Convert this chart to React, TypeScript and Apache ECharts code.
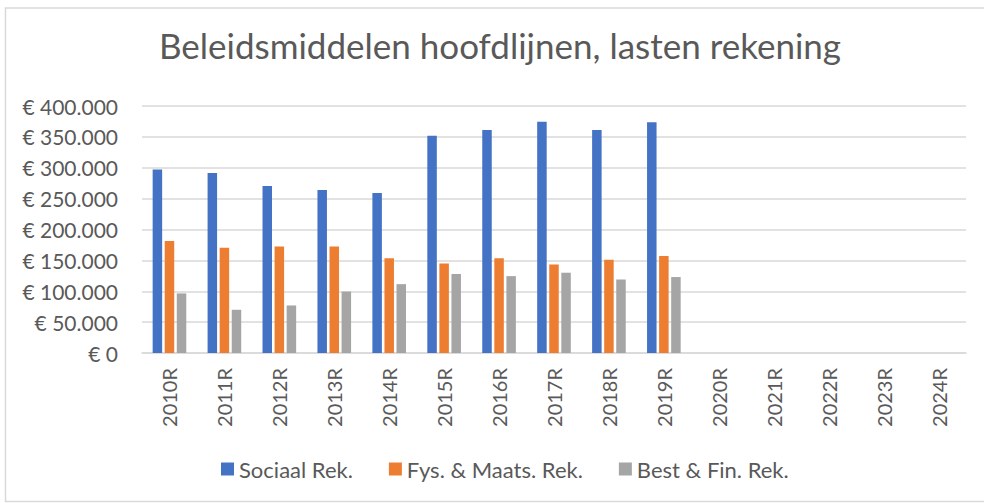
import React, { useEffect, useRef } from "react";
import * as echarts from "echarts";

const categories = ["2010R", "2011R", "2012R", "2013R", "2014R", "2015R", "2016R", "2017R", "2018R", "2019R", "2020R", "2021R", "2022R", "2023R", "2024R"];
const sociaal = [297000, 291500, 270500, 264000, 259000, 352000, 361000, 374500, 361000, 373500, null, null, null, null, null];
const fysMaats = [181500, 170500, 172500, 172500, 153500, 145000, 153500, 143500, 151000, 157000, null, null, null, null, null];
const bestFin = [96500, 70000, 77000, 99500, 111500, 128000, 124500, 130000, 119000, 123000, null, null, null, null, null];
const seriesNames = ["Sociaal Rek.", "Fys. & Maats. Rek.", "Best & Fin. Rek."];
const colors = ["#4472C4", "#ED7D31", "#A5A5A5"];

const FONT = "Lato, 'Open Sans', sans-serif";
const TEXT = "#595959";

function fmt(v: number): string {
  const s = Math.round(v).toString().replace(/\B(?=(\d{3})+(?!\d))/g, ".");
  return "€ " + s;
}

export default function App() {
  const ref = useRef<HTMLDivElement>(null);
  useEffect(() => {
    if (!ref.current) return;
    const chart = echarts.init(ref.current, undefined, { renderer: "svg" });
    const dataSets = [sociaal, fysMaats, bestFin];
    chart.setOption({
      animation: false,
      backgroundColor: "#ffffff",
      title: {
        text: "Beleidsmiddelen hoofdlijnen, lasten rekening",
        left: 500,
        textAlign: "center",
        top: 27,
        padding: 0,
        textStyle: { fontFamily: FONT, fontSize: 35, fontWeight: "normal", color: TEXT },
      },
      graphic: [
        {
          type: "rect",
          shape: { x: 5.5, y: 8, width: 1000, height: 493.5 },
          style: { fill: "none", stroke: "#d9d9d9", lineWidth: 1.5 },
          silent: true,
        },
      ],
      legend: {
        top: 458,
        left: 221,
        padding: 0,
        itemWidth: 13,
        itemHeight: 13,
        itemGap: 36,
        icon: "rect",
        textStyle: { fontFamily: FONT, fontSize: 22, color: TEXT, padding: [0, 0, 0, 0] },
        data: seriesNames,
      },
      grid: { left: 142, right: 18, top: 106, bottom: 150, containLabel: false },
      xAxis: {
        type: "category",
        data: categories,
        axisLine: { lineStyle: { color: "#d9d9d9", width: 1.5 } },
        axisTick: { show: false },
        axisLabel: { rotate: 90, margin: 15, fontFamily: FONT, fontSize: 20, color: TEXT, interval: 0 },
      },
      yAxis: {
        type: "value",
        min: 0,
        max: 400000,
        interval: 50000,
        axisLine: { show: false },
        axisTick: { show: false },
        splitLine: { lineStyle: { color: "#d9d9d9", width: 1.5 } },
        axisLabel: { formatter: fmt, margin: 24, fontFamily: FONT, fontSize: 21, color: TEXT },
      },
      series: dataSets.map((d, i) => ({
        name: seriesNames[i],
        type: "bar",
        data: d,
        barWidth: 9.5,
        barGap: "27%",
        itemStyle: { color: colors[i] },
      })),
    });
    return () => chart.dispose();
  }, []);
  return <div ref={ref} style={{ position: "fixed", left: 0, top: 0, width: 984, height: 503 }} />;
}
